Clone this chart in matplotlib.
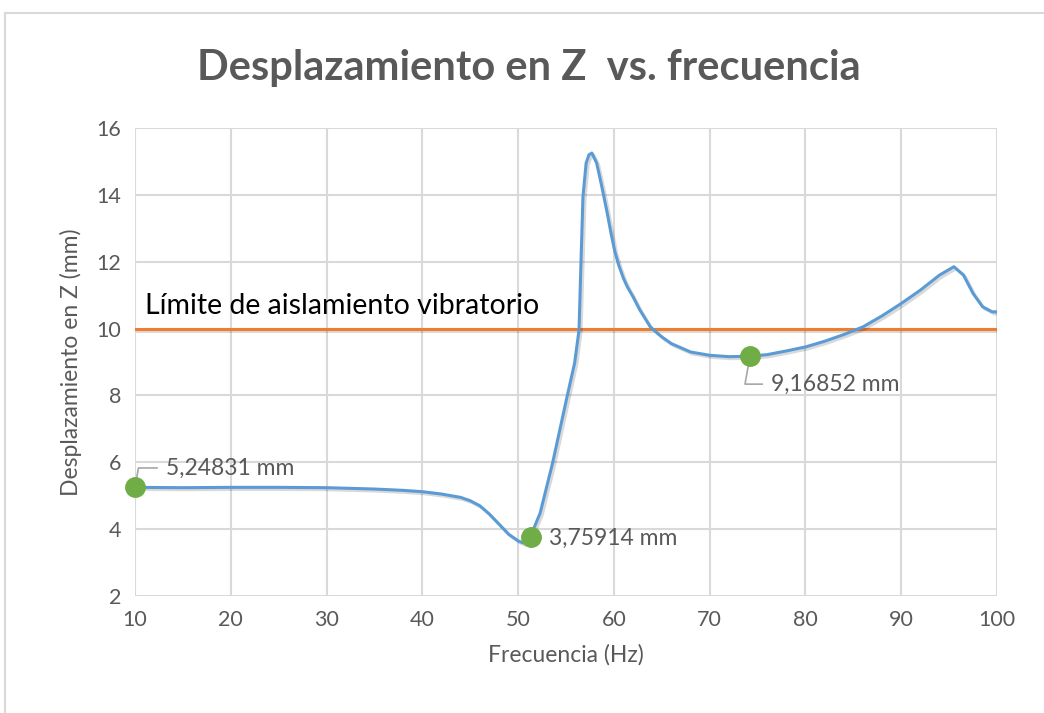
import matplotlib.pyplot as plt
import matplotlib.patheffects as pe
from matplotlib.lines import Line2D

plt.rcParams['font.family'] = ['Lato', 'DejaVu Sans']

# Datos
frecuencia = [10, 15, 20, 25, 30, 35, 38, 40, 42, 44, 45, 46, 47, 48, 49, 50,
              50.5, 51.2, 52.3, 53.6, 55.1, 55.9, 56.36, 56.56, 56.77, 57.1,
              57.4, 57.7, 58.2, 58.7, 59.3, 59.7, 60.1, 60.5, 61.0, 61.4, 62,
              62.7, 63.8, 65, 66, 68, 70, 72, 74.2, 76, 78, 80, 82, 84, 86,
              88, 90, 92, 94, 95.5, 96.5, 97.5, 98.5, 99.5, 100]
desplaz = [5.25, 5.24, 5.25, 5.25, 5.24, 5.2, 5.16, 5.12, 5.05, 4.95, 4.85,
           4.7, 4.45, 4.15, 3.85, 3.65, 3.59, 3.72, 4.48, 5.98, 7.95, 8.97,
           9.96, 11.96, 13.94, 14.95, 15.2, 15.25, 14.95, 14.3, 13.46, 12.85,
           12.3, 11.9, 11.5, 11.25, 10.95, 10.56, 10.05, 9.75, 9.55, 9.3, 9.2,
           9.16, 9.17, 9.22, 9.33, 9.45, 9.62, 9.82, 10.05, 10.38, 10.75,
           11.15, 11.6, 11.85, 11.6, 11.05, 10.65, 10.5, 10.5]
limite = 10
puntos_f = [10, 51.3, 74.2]
puntos_z = [5.24831, 3.75914, 9.16852]
etiquetas = ['5,24831 mm', '3,75914 mm', '9,16852 mm']

gris = '#595959'
fig = plt.figure(figsize=(10.44, 7.13), dpi=100)
ax = fig.add_axes([0.1293, 0.1641, 0.8257, 0.6564])

# borde del area del grafico
fig.add_artist(Line2D([5/1044, 1.01], [1-13/713, 1-13/713], color='#D9D9D9', lw=1.5))
fig.add_artist(Line2D([5/1044, 5/1044], [-0.01, 1-13/713], color='#D9D9D9', lw=1.5))

sombra = [pe.SimpleLineShadow(offset=(1.5, -1.5), alpha=0.15), pe.Normal()]
ax.axhline(limite, color='#ED7D31', lw=2.2, path_effects=sombra, zorder=3)
ax.plot(frecuencia, desplaz, color='#5B9BD5', lw=2.2, path_effects=sombra,
        zorder=4, solid_joinstyle='round')
ax.plot(puntos_f, puntos_z, 'o', color='#70AD47', ms=14, zorder=5, clip_on=False)

ax.text(11, 10.3, 'Límite de aislamiento vibratorio', fontsize=20.5, color='black',
        va='bottom', ha='left')

offsets = [(22, 14), (13, -1), (15, -20)]
for f, z, t, off in zip(puntos_f, puntos_z, etiquetas, offsets):
    if off[1] == -1:
        ax.annotate(t, (f, z), xytext=off, textcoords='offset points', fontsize=16.5,
                    color=gris, va='center', ha='left')
    else:
        ax.annotate(t, (f, z), xytext=off, textcoords='offset points', fontsize=16.5,
                    color=gris, va='center', ha='left',
                    arrowprops=dict(arrowstyle='-', color='#A6A6A6', lw=1.2,
                                    relpos=(0, 0.5), shrinkA=4, shrinkB=3,
                                    connectionstyle='angle,angleA=0,angleB=80,rad=0'))

ax.set_xlim(10, 100)
ax.set_ylim(2, 16)
ax.set_xticks(range(10, 101, 10))
ax.set_yticks(range(2, 17, 2))
ax.grid(True, color='#D9D9D9', lw=1.5)
ax.set_axisbelow(True)
for s in ax.spines.values():
    s.set_visible(False)
ax.tick_params(length=0, labelsize=15.5, labelcolor=gris, pad=10)

ax.set_xlabel('Frecuencia (Hz)', fontsize=16.5, color=gris, labelpad=10)
ax.set_ylabel('Desplazamiento en Z (mm)', fontsize=16.5, color=gris, labelpad=10)
fig.text(529/1044, 1-68/713, 'Desplazamiento en Z  vs. frecuencia', fontsize=30,
         fontweight='bold', color=gris, ha='center', va='center')

fig.savefig('out.png', dpi=100)
